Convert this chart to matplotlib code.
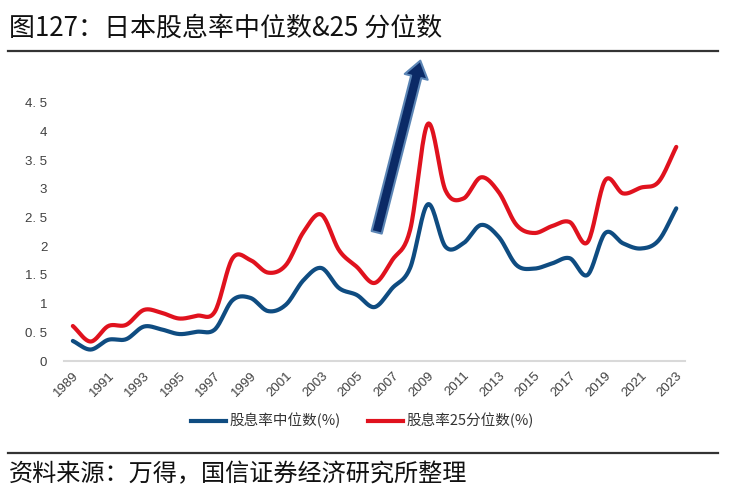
import numpy as np
import matplotlib
matplotlib.use("Agg")
import matplotlib.pyplot as plt
from matplotlib.lines import Line2D

plt.rcParams['font.family'] = ['Noto Sans CJK SC', 'DejaVu Sans']

years = list(range(1989, 2024))
median = [0.35, 0.20, 0.37, 0.38, 0.60, 0.55, 0.47, 0.51, 0.55, 1.06, 1.10,
          0.87, 0.98, 1.41, 1.62, 1.27, 1.15, 0.94, 1.27, 1.62, 2.73, 1.99,
          2.05, 2.37, 2.16, 1.67, 1.61, 1.70, 1.79, 1.50, 2.23, 2.05, 1.96,
          2.10, 2.66]
q25 = [0.61, 0.34, 0.61, 0.63, 0.89, 0.84, 0.74, 0.79, 0.86, 1.79, 1.76,
       1.54, 1.67, 2.25, 2.55, 1.93, 1.64, 1.36, 1.76, 2.28, 4.13, 2.97,
       2.83, 3.20, 2.94, 2.37, 2.23, 2.35, 2.42, 2.07, 3.15, 2.92, 3.02,
       3.12, 3.73]
yticks = [0, 0.5, 1, 1.5, 2, 2.5, 3, 3.5, 4, 4.5]
ytick_labels = ['0', '0. 5', '1', '1. 5', '2', '2. 5', '3', '3. 5', '4', '4. 5']
xtick_labels = [str(y) for y in years[::2]]
legend_labels = ['股息率中位数(%)', '股息率25分位数(%)']
title = '图127：日本股息率中位数&25 分位数'
source = '资料来源：万得，国信证券经济研究所整理'

BLUE = '#0f4c81'
RED = '#e0121e'


def smooth(x, y, n=20):
    """Catmull-Rom rendering of the polyline (like Excel's smoothed line)."""
    x = np.asarray(x, float)
    y = np.asarray(y, float)
    px = np.concatenate([[2 * x[0] - x[1]], x, [2 * x[-1] - x[-2]]])
    py = np.concatenate([[2 * y[0] - y[1]], y, [2 * y[-1] - y[-2]]])
    xs, ys = [], []
    t = np.linspace(0, 1, n, endpoint=False)
    for i in range(1, len(px) - 2):
        for arr, out in ((px, xs), (py, ys)):
            p0, p1, p2, p3 = arr[i - 1], arr[i], arr[i + 1], arr[i + 2]
            out.extend(0.5 * ((2 * p1) + (-p0 + p2) * t +
                              (2 * p0 - 5 * p1 + 4 * p2 - p3) * t ** 2 +
                              (-p0 + 3 * p1 - 3 * p2 + p3) * t ** 3))
    xs.append(x[-1])
    ys.append(y[-1])
    return np.array(xs), np.array(ys)


fig = plt.figure(figsize=(7.32, 5.01), dpi=100)
ax = fig.add_axes([0.0874, 0.2794, 0.8486, 0.5156])

idx = np.arange(len(years))
sx, sy = smooth(idx, median)
ax.plot(sx, sy, color=BLUE, lw=3.0, solid_capstyle='round')
sx, sy = smooth(idx, q25)
ax.plot(sx, sy, color=RED, lw=3.0, solid_capstyle='round')

ax.set_xlim(-0.5, len(years) - 0.5)
ax.set_ylim(0, 4.5)
ax.set_yticks(yticks)
ax.set_yticklabels(ytick_labels, family=['Liberation Sans', 'DejaVu Sans'])
ax.set_xticks(idx[::2])
ax.set_xticklabels(xtick_labels, rotation=45, ha='right', va='top',
                   rotation_mode='anchor', family=['Liberation Sans', 'DejaVu Sans'])
ax.tick_params(axis='both', length=0, labelsize=9.5, colors='#404040')
ax.tick_params(axis='y', pad=12)
ax.tick_params(axis='x', pad=6)
for s in ['top', 'right', 'left']:
    ax.spines[s].set_visible(False)
ax.spines['bottom'].set_color('#d9d9d9')
ax.spines['bottom'].set_linewidth(1.5)

# legend
handles = [Line2D([], [], color=BLUE, lw=3), Line2D([], [], color=RED, lw=3)]
fig.legend(handles, legend_labels, loc='center', bbox_to_anchor=(0.495, 0.16),
           ncol=2, frameon=False, fontsize=10.5, handlelength=2.4, handletextpad=0.25,
           columnspacing=1.9, labelcolor='#333333')

# arrow annotation
ax.annotate('', xy=(421, 443), xycoords='figure pixels',
            xytext=(376, 266), textcoords='figure pixels',
            arrowprops=dict(arrowstyle='simple,head_width=1.7,head_length=1.2,tail_width=0.75',
                            mutation_scale=10, fc='#0b2a66', ec='#5b85b5', lw=1.5))

# title, rules, source
fig.text(0.012, 0.944, title, fontsize=18.7, color='#111111', va='center', ha='left')
fig.add_artist(Line2D([0.011, 0.981], [0.898, 0.898], transform=fig.transFigure,
                      color='#333333', lw=1.6))
fig.add_artist(Line2D([0.011, 0.981], [0.096, 0.096], transform=fig.transFigure,
                      color='#333333', lw=1.6))
fig.text(0.012, 0.054, source, fontsize=17.4, color='#111111', va='center', ha='left')

fig.savefig('out.png', dpi=100)
